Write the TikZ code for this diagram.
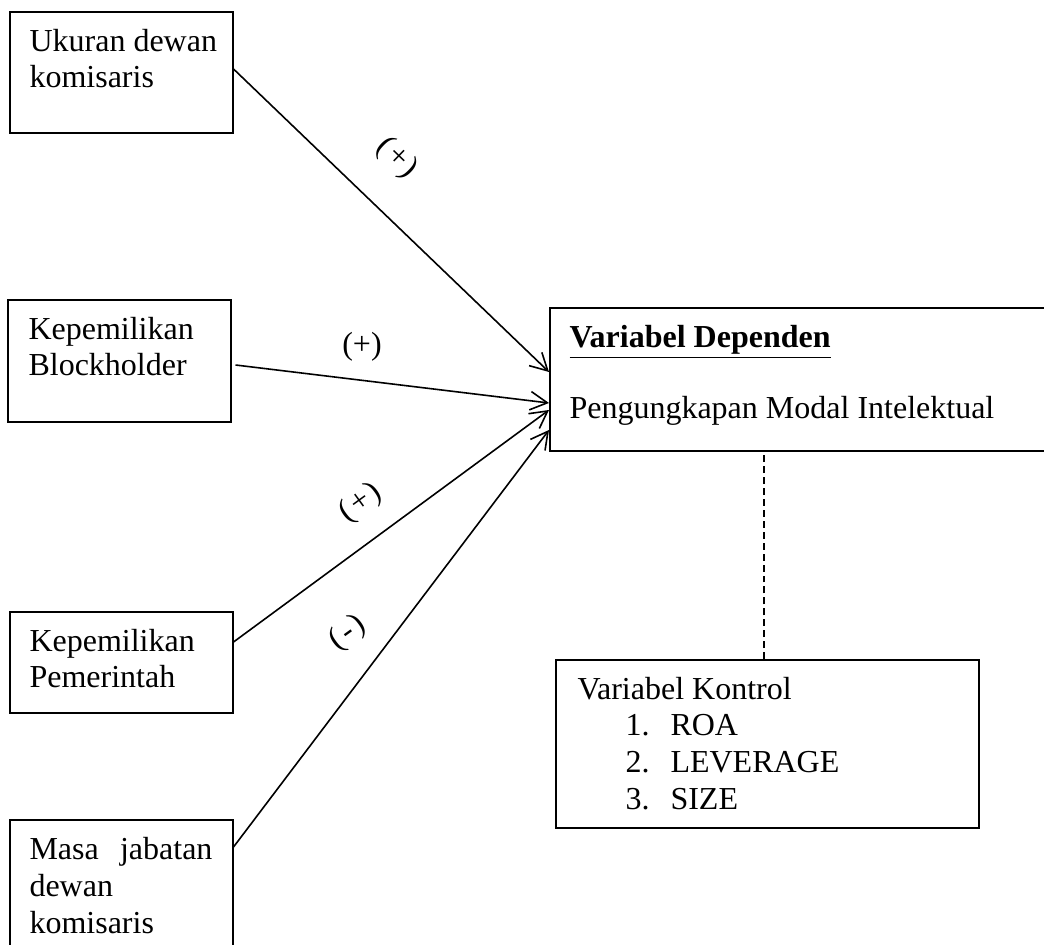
\documentclass[tikz,border=0pt]{standalone}
\usepackage{fontspec}
\setmainfont{Liberation Serif}
\usetikzlibrary{arrows.meta,calc}
\begin{document}
\begin{tikzpicture}[x=0.375pt,y=-0.375pt,
  box/.style={draw, line width=0.6pt, fill=white, inner sep=0pt, anchor=north west},
  txt/.style={anchor=base west, inner sep=0pt, font=\fontsize{12}{13.8}\selectfont},
  rel/.style={line width=0.6pt, -{Straight Barb[length=6.4pt,width=6.9pt]}},
  sign/.style={inner sep=0pt, font=\fontsize{12}{13.8}\selectfont}]
\useasboundingbox (0,0) rectangle (1044,945);
\clip (0,0) rectangle (1044,945);
% independent variable boxes
\node[box, minimum width=83.6pt, minimum height=45.4pt] (b1) at (9,11) {};
\node[box, minimum width=83.6pt, minimum height=45.75pt] (b2) at (7,299) {};
\node[box, minimum width=83.6pt, minimum height=37.9pt] (b3) at (9,611) {};
\node[box, minimum width=83.6pt, minimum height=75pt] (b4) at (9,819) {};
% dependent and control boxes
\node[box, minimum width=195pt, minimum height=53.6pt] (main) at (549,307) {};
\node[box, minimum width=158.6pt, minimum height=63pt] (ctrl) at (555,659) {};
% texts
\node[txt] (t1a) at (29,52) {Ukuran dewan};
\node[txt] (t1b) at (29,88) {komisaris};
\node[txt] (t2a) at (28,340) {Kepemilikan};
\node[txt] (t2b) at (28,376) {Blockholder};
\node[txt] (t3a) at (29,651) {Kepemilikan};
\node[txt] (t3b) at (29,687) {Pemerintah};
\node[txt] (t4a) at (29,859) {\makebox[68.6pt][s]{Masa jabatan}};
\node[txt] (t4b) at (29,896) {dewan};
\node[txt] (t4c) at (29,933) {komisaris};
\node[txt] (mt) at (569,347) {\underline{\textbf{Variabel Dependen}}};
\node[txt] (md) at (569,419) {Pengungkapan Modal Intelektual};
\node[txt] (ct) at (577,699) {Variabel Kontrol};
\node[txt] (n1) at (625,735) {1.};
\node[txt] (i1) at (670,735) {ROA};
\node[txt] (n2) at (625,772) {2.};
\node[txt] (i2) at (670,772) {LEVERAGE};
\node[txt] (n3) at (625,809) {3.};
\node[txt] (i3) at (670,809) {SIZE};
% connectors
\draw[rel] ($(b1.north east)+(0,58)$) -- ($(main.north west)+(0,65)$);
\draw[rel] ($(b2.north east)+(4,66)$) -- ($(main.north west)+(0,96)$);
\draw[rel] ($(b3.north east)+(0,31)$) -- ($(main.north west)+(0,103)$);
\draw[rel] ($(b4.north east)+(0,28)$) -- ($(main.north west)+(0,123)$);
\draw[line width=0.6pt, dash pattern=on 2.6pt off 1.5pt] ($(ctrl.north)+(-3,0)$) -- ($(ctrl.north |- main.south)+(-3,0)$);
% signs
\node[sign, rotate=-44] (s1) at (397,158) {(\kern0.8pt+\kern0.8pt)};
\node[sign] (s2) at (362,347) {(+)};
\node[sign, rotate=36] (s3) at (361,503) {(\kern0.8pt+\kern0.8pt)};
\node[sign, rotate=36] (s4) at (348,633) {(\kern1pt-\kern1pt)};
\end{tikzpicture}
\end{document}
